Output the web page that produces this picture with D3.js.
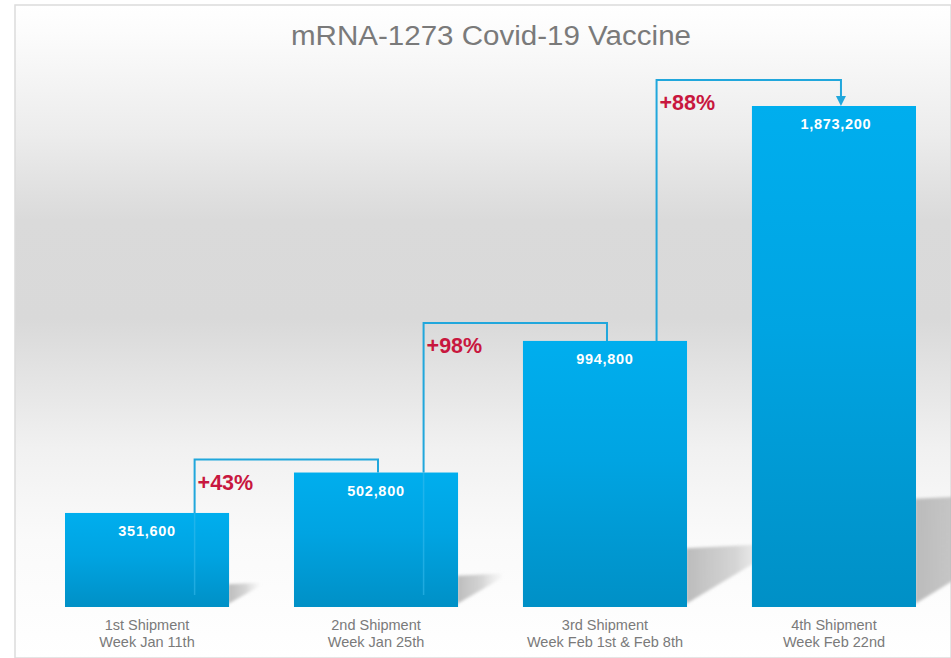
<!DOCTYPE html>
<html>
<head>
<meta charset="utf-8">
<script src="https://cdn.jsdelivr.net/npm/d3@7"></script>
<style>
  html, body { margin: 0; padding: 0; background: #ffffff; }
  svg { display: block; }
</style>
</head>
<body>
<script>
// ---- data ----
const title = "mRNA-1273 Covid-19 Vaccine";
const categoryLine1 = ["1st Shipment", "2nd Shipment", "3rd Shipment", "4th Shipment"];
const categoryLine2 = ["Week Jan 11th", "Week Jan 25th", "Week Feb 1st & Feb 8th", "Week Feb 22nd"];
const values = [351600, 502800, 994800, 1873200];
const changeLabels = ["+43%", "+98%", "+88%"];

// ---- layout ----
const W = 951, H = 658;
const svg = d3.select("body").append("svg").attr("width", W).attr("height", H);
const defs = svg.append("defs");

// background gradient
const bg = defs.append("linearGradient").attr("id", "bg").attr("x1", 0).attr("y1", 0).attr("x2", 0).attr("y2", 1);
[[0, "#ffffff"], [0.04, "#fcfcfc"], [0.2, "#ececec"], [0.33, "#dadada"], [0.48, "#d9d9d9"], [0.58, "#e5e5e5"], [0.68, "#f1f1f1"], [0.82, "#fafafa"], [1, "#ffffff"]]
  .forEach(([o, c]) => bg.append("stop").attr("offset", o).attr("stop-color", c));

const barGrad = defs.append("linearGradient").attr("id", "barGrad").attr("x1", 0).attr("y1", 0).attr("x2", 0).attr("y2", 1);
barGrad.append("stop").attr("offset", 0).attr("stop-color", "#00aeee");
barGrad.append("stop").attr("offset", 0.45).attr("stop-color", "#00a4e2");
barGrad.append("stop").attr("offset", 1).attr("stop-color", "#0090c6");

const shGrad = defs.append("linearGradient").attr("id", "shGrad").attr("x1", 0).attr("y1", 0).attr("x2", 1).attr("y2", 0);
shGrad.append("stop").attr("offset", 0).attr("stop-color", "#b4b4b4").attr("stop-opacity", 0.9);
shGrad.append("stop").attr("offset", 0.55).attr("stop-color", "#c4c4c4").attr("stop-opacity", 0.7);
shGrad.append("stop").attr("offset", 1).attr("stop-color", "#dadada").attr("stop-opacity", 0.1);

const blur = defs.append("filter").attr("id", "blur").attr("x", "-20%").attr("y", "-20%").attr("width", "140%").attr("height", "140%");
blur.append("feGaussianBlur").attr("stdDeviation", 1.8);

svg.append("rect").attr("x", 15).attr("y", 5).attr("width", W - 15).attr("height", H - 5)
  .attr("fill", "url(#bg)").attr("stroke", "#dcdcdc").attr("stroke-width", 1.5);

// scales
const x = d3.scaleBand().domain(d3.range(values.length)).range([65, 916]).paddingInner(0.2835).paddingOuter(0);
const y = d3.scaleLinear().domain([0, d3.max(values)]).range([607, 106]);
const bw = x.bandwidth();

// title
svg.append("text").attr("x", 491).attr("y", 45).attr("text-anchor", "middle")
  .attr("font-family", "Liberation Sans, Arial, sans-serif").attr("font-size", 27)
  .attr("textLength", 400).attr("lengthAdjust", "spacingAndGlyphs")
  .attr("fill", "#7a7a7a").text(title);

// shadows (drawn before bars so neighbours cover them)
svg.append("g").selectAll("path").data(values).join("path")
  .attr("filter", "url(#blur)")
  .attr("fill", "url(#shGrad)")
  .attr("d", (d, i) => {
    const x1 = x(i) + bw - 1;
    const y0 = y(0) - 3;
    const h = y(0) - y(d);
    const sh = h * 0.21;
    const sw = sh * 1.6;
    return `M${x1},${y0} L${x1},${y0 - sh} L${x1 + sw},${y0 - sh - sh * 0.08} L${x1 + sw},${y0 - sh + 2} Z`;
  });

// bars
svg.append("g").selectAll("rect").data(values).join("rect")
  .attr("x", (d, i) => x(i)).attr("y", d => y(d))
  .attr("width", bw).attr("height", d => y(0) - y(d))
  .attr("fill", "url(#barGrad)");

// faint inner continuation lines
svg.append("g").selectAll("line").data(values.slice(0, 2)).join("line")
  .attr("x1", (d, i) => x(i) + bw * 0.79).attr("x2", (d, i) => x(i) + bw * 0.79)
  .attr("y1", d => y(d)).attr("y2", y(0) - 12)
  .attr("stroke", "#38bcec").attr("stroke-opacity", 0.55).attr("stroke-width", 1.5);

// connectors
const connColor = "#21a7dc";
const rise = [13, 18, 26];
const conn = svg.append("g");
changeLabels.forEach((lab, i) => {
  const sx = x(i) + bw * 0.79 + (i === 2 ? 4 : 0);
  const ex = x(i + 1) + bw / 2 + (i === 2 ? 7 : 2);
  const topY = y(Math.max(values[i], values[i + 1])) - rise[i];
  const endY = y(values[i + 1]) - (i === 2 ? 9 : 0);
  conn.append("path")
    .attr("d", `M${sx},${y(values[i])} L${sx},${topY} L${ex},${topY} L${ex},${endY}`)
    .attr("fill", "none").attr("stroke", connColor).attr("stroke-width", 2);
  if (i === 2) {
    conn.append("path")
      .attr("d", `M${ex - 5},${endY - 1} L${ex + 5},${endY - 1} L${ex},${y(values[i + 1])} Z`)
      .attr("fill", connColor);
  }
  svg.append("text").attr("x", sx + 3).attr("y", topY + 30)
    .attr("font-family", "Liberation Sans, Arial, sans-serif").attr("font-weight", "bold")
    .attr("font-size", 21.5).attr("fill", "#c8173e").text(lab);
});

// value labels
svg.append("g").selectAll("text").data(values).join("text")
  .attr("x", (d, i) => x(i) + bw / 2 + (i === 3 ? 2 : 0)).attr("y", d => y(d) + 23)
  .attr("text-anchor", "middle")
  .attr("font-family", "Liberation Sans, Arial, sans-serif").attr("font-weight", "bold")
  .attr("font-size", 14.5).attr("letter-spacing", 0.7).attr("fill", "#ffffff")
  .text(d => d3.format(",")(d));

// category labels
const cat = svg.append("g").attr("font-family", "Liberation Sans, Arial, sans-serif")
  .attr("font-size", 14.5).attr("fill", "#7a7a7a").attr("text-anchor", "middle");
cat.selectAll("text.l1").data(categoryLine1).join("text").attr("class", "l1")
  .attr("x", (d, i) => x(i) + bw / 2).attr("y", 630).text(d => d);
cat.selectAll("text.l2").data(categoryLine2).join("text").attr("class", "l2")
  .attr("x", (d, i) => x(i) + bw / 2).attr("y", 647).text(d => d);
</script>
</body>
</html>
